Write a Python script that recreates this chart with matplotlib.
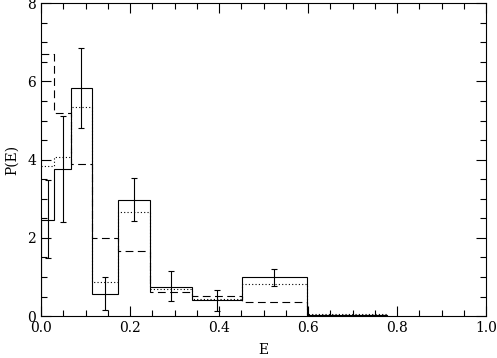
import numpy as np
import matplotlib.pyplot as plt
from matplotlib.ticker import MultipleLocator

# bin edges in E
edges = [0.0, 0.030, 0.067, 0.114, 0.172, 0.246, 0.339, 0.451, 0.597, 0.778]

# solid histogram with error bars
p_solid = [2.47, 3.75, 5.82, 0.56, 2.98, 0.75, 0.41, 0.99, 0.02]
err_hi = [3.48, 5.12, 6.85, 0.99, 3.52, 1.16, 0.68, 1.20]
err_lo = [1.49, 2.40, 4.80, 0.15, 2.43, 0.38, 0.14, 0.78]

# dotted and dashed histograms
p_dotted = [3.84, 4.07, 5.35, 0.87, 2.66, 0.70, 0.45, 0.81, 0.05]
p_dashed = [6.70, 5.20, 3.90, 1.99, 1.66, 0.61, 0.52, 0.37, 0.04]

plt.rcParams['font.family'] = ['DejaVu Serif']
plt.rcParams['font.size'] = 10

fig = plt.figure(figsize=(4.97, 3.58), dpi=100)
ax = fig.add_axes([0.0825, 0.117, 0.8955, 0.874])

ax.stairs(p_solid, edges, baseline=0, color='k', lw=0.8)
ax.stairs(p_dotted, edges, baseline=None, color='k', lw=0.8, ls=(0, (1, 2)))
ax.stairs(p_dashed, edges, baseline=None, color='k', lw=0.8, ls=(0, (7, 4)))

e = np.array(edges)
centers = 0.5 * (e[:-1] + e[1:])[:len(err_hi)]
vals = np.array(p_solid[:len(err_hi)])
yerr = [vals - np.array(err_lo), np.array(err_hi) - vals]
ax.errorbar(centers, vals, yerr=yerr, fmt='none', ecolor='k', elinewidth=0.8,
            capsize=2.5, capthick=0.8)

ax.set_xlim(0, 1.0)
ax.set_ylim(0, 8)
ax.xaxis.set_major_locator(MultipleLocator(0.2))
ax.xaxis.set_minor_locator(MultipleLocator(0.05))
ax.yaxis.set_major_locator(MultipleLocator(2))
ax.yaxis.set_minor_locator(MultipleLocator(0.5))
ax.tick_params(which='both', direction='in', top=True, right=True, width=0.8)
ax.tick_params(which='major', length=7)
ax.tick_params(which='minor', length=4)
ax.xaxis.set_major_formatter(plt.FuncFormatter(lambda v, p: f"{v:.1f}"))
for s in ax.spines.values():
    s.set_linewidth(0.8)

ax.set_xlabel('E', labelpad=6)
ax.set_ylabel('P(E)', labelpad=6)

fig.savefig("out.png", dpi=100)
